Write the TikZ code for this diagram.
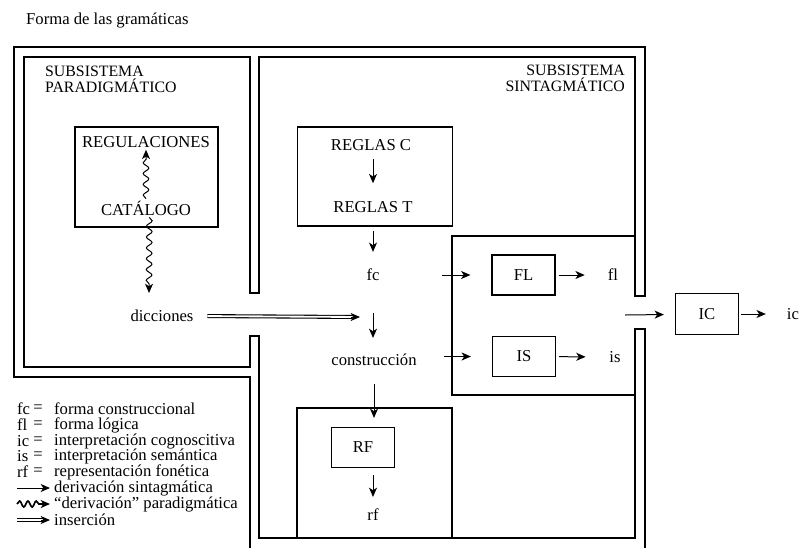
\documentclass[tikz,border=0pt]{standalone}
\usepackage{fontspec}
\setmainfont{Liberation Serif}
\usetikzlibrary{arrows.meta,decorations.pathmorphing,positioning}

\begin{document}
\begin{tikzpicture}[x=0.6pt,y=-0.6pt,->,>={Stealth[length=5.6pt,width=4.8pt,inset=1.6pt]},
            line width=0.6pt,font=\fontsize{10}{12}\selectfont,inner sep=1pt,
            wall/.style={-,line width=0.8pt},
            box/.style={draw,-,line width=0.7pt,minimum width=37.8pt,minimum height=24pt,inner sep=0pt},
            panel/.style={draw,-,line width=0.7pt,inner sep=0pt},
            caps/.style={font=\fontsize{9.5}{9.6}\selectfont},
            wavy/.style={decorate,decoration={snake,amplitude=1.7pt,segment length=6.5pt,post length=5pt}},
            ins/.style={-,double,double distance=1.1pt,line width=0.65pt}]

      \useasboundingbox (0,0) rectangle (801,547);

      % walls of the two subsystems
      \draw[wall] (250,560) -- (250,377) -- (14,377) -- (14,47) -- (645,47) -- (645,296)
            -- (635,296) -- (635,57) -- (259,57) -- (259,293) -- (250,293) -- (250,57)
            -- (24,57) -- (24,367) -- (250,367) -- (250,336) -- (259,336) -- (259,538)
            -- (635,538) -- (635,329) -- (645,329) -- (645,560);
      \draw[wall] (297,538) -- (297,408) -- (452,408) -- (452,538);
      \draw[wall] (635,236) -- (452,236) -- (452,395) -- (635,395);

      \node[anchor=west] (titulo) at (24,20) {Forma de las gramáticas};
      \node[caps,anchor=north west,align=left] (sub_par) at (43,64) {SUBSISTEMA\\PARADIGMÁTICO};
      \node[caps,anchor=north east,align=right] (sub_sin) at (627,63) {SUBSISTEMA\\SINTAGMÁTICO};

      % paradigmatic side
      \node[panel,minimum width=85.8pt,minimum height=60pt] (reg_box) at (146.5,177) {};
      \node (regul) at (146,142) {REGULACIONES};
      \node (catal) at (146,208) {CATÁLOGO};
      \node (dicc) at (162,316) {dicciones};
      \coordinate (dic_top) at (149,293);

      % syntagmatic side
      \node[panel,minimum width=93pt,minimum height=59.4pt] (reglas) at (375,176.5) {};
      \node (reglas_c) at (371,145) {REGLAS C};
      \node (reglas_t) at (373,207) {REGLAS T};
      \node (fc) at (373,275) {fc};
      \node (constr) at (374,360) {construcción};
      \node[box] (rf_box) at (363,447.5) {RF};
      \node (rf) at (373,515) {rf};
      \node[box] (fl_box) at (523.5,275) {FL};
      \node (fl) at (613,275) {fl};
      \node[box] (is_box) at (524,356.5) {IS};
      \node (is) at (615,357) {is};
      \coordinate (ic_in) at (625,315);
      \node[box,minimum height=25pt] (ic_box) at (707,314) {IC};
      \node (ic) at (793,314) {ic};
      \coordinate (ins_tip) at (360,317);

      \path (reglas_c.south -| reglas_t) edge [shorten <=3.6pt,shorten >=9.6pt] (reglas_t)
            (reglas.south -| fc)   edge [shorten <=2.4pt,shorten >=9pt]   (fc)
            (fc)                   edge [shorten <=18pt,shorten >=8.4pt]  (fc |- constr.north)
            (constr)               edge [shorten <=9.6pt,shorten >=5.4pt] (constr |- rf_box.north)
            (rf_box.south -| rf)   edge [shorten <=4.2pt,shorten >=6pt]   (rf)
            (fc)                   edge [shorten <=36pt,shorten >=12.6pt] (fl_box)
            (constr.east |- is_box) edge [shorten <=15pt,shorten >=12.6pt] (is_box)
            (fl_box)               edge [shorten <=1.8pt,shorten >=12.6pt] (fl)
            (is_box)               edge [shorten <=1.8pt,shorten >=13pt]  (is)
            (ic_in)                edge [shorten >=6.6pt]                 (ic_box)
            (ic_box)               edge [shorten <=1.2pt,shorten >=11.4pt] (ic);

      \draw[wavy] (catal.north) -- (regul.south);
      \draw[wavy] ([xshift=2pt]catal.south) -- (dic_top);
      \draw[ins,shorten <=7pt,shorten >=4.5pt] (dicc.east) -- (ins_tip);
      \draw ([xshift=-5.6pt]ins_tip) -- (ins_tip);

      % legend
      \node[anchor=west] (ab_fc) at (15,409) {fc};
      \node[anchor=west] (ab_fl) at (15,425) {fl};
      \node[anchor=west] (ab_ic) at (15,441) {ic};
      \node[anchor=west] (ab_is) at (15,456) {is};
      \node[anchor=west] (ab_rf) at (15,472) {rf};
      \node (eq_fc) at (38,409) {=};
      \node (eq_fl) at (38,425) {=};
      \node (eq_ic) at (38,441) {=};
      \node (eq_is) at (38,456) {=};
      \node (eq_rf) at (38,472) {=};
      \node[anchor=west] (le_fc) at (52,409) {forma construccional};
      \node[anchor=west] (le_fl) at (52,425) {forma lógica};
      \node[anchor=west] (le_ic) at (52,441) {interpretación cognoscitiva};
      \node[anchor=west] (le_is) at (52,456) {interpretación semántica};
      \node[anchor=west] (le_rf) at (52,472) {representación fonética};
      \node[anchor=west] (le_sin) at (52,488) {derivación sintagmática};
      \node[anchor=west] (le_par) at (52,504) {“derivación” paradigmática};
      \node[anchor=west] (le_ins) at (52,520) {inserción};

      \draw ([xshift=-21pt]le_sin.west) -- ([xshift=-1.2pt]le_sin.west);
      \draw[wavy,line width=1pt,decoration={amplitude=1.8pt,segment length=5pt,post length=5pt}]
            ([xshift=-21pt]le_par.west) -- ([xshift=-1.2pt]le_par.west);
      \draw[ins] ([xshift=-21pt]le_ins.west) -- ([xshift=-5.6pt]le_ins.west);
      \draw ([xshift=-6.6pt]le_ins.west) -- ([xshift=-1.2pt]le_ins.west);

\end{tikzpicture}
\end{document}
